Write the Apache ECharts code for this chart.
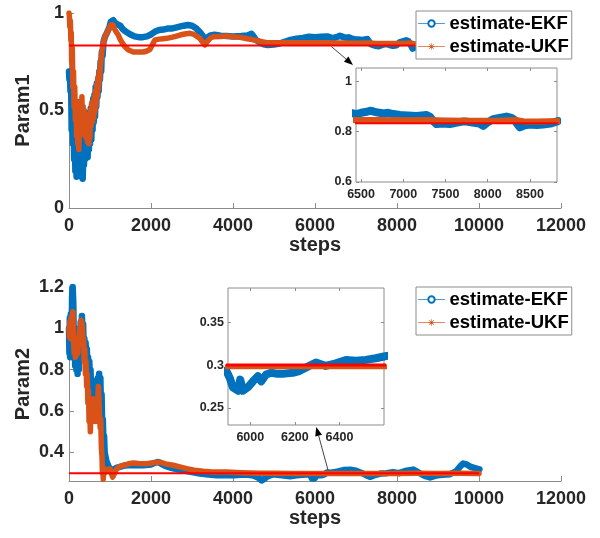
<!DOCTYPE html>
<html><head><meta charset="utf-8">
<script src="https://cdn.jsdelivr.net/npm/echarts@6/dist/echarts.min.js"></script>
<style>html,body{margin:0;padding:0;background:#fff}#c{width:600px;height:538px}</style>
</head><body><div id="c"></div>
<script>
// ---------- DATA ----------
const xTicksMain = [0, 2000, 4000, 6000, 8000, 10000, 12000];
const p1YTicks = [0, 0.5, 1];
const p2YTicks = [0.4, 0.6, 0.8, 1, 1.2];
const inset1XTicks = [6500, 7000, 7500, 8000, 8500];
const inset1YTicks = [0.6, 0.8, 1];
const inset2XTicks = [6000, 6200, 6400];
const inset2YTicks = [0.25, 0.3, 0.35];

const p1True = 0.833;
const p2True = 0.3;
const p1TrueSpan = [0, 8830];
const p2TrueSpan = [0, 10000];

const p1EKF = [[0,0.70],[10,0.66],[20,0.70],[35,0.60],[50,0.66],[65,0.40],[80,0.58],[95,0.33],[110,0.52],[125,0.25],[140,0.42],[155,0.19],[170,0.36],[185,0.16],[200,0.33],[215,0.18],[230,0.34],[245,0.22],[260,0.35],[275,0.21],[290,0.34],[305,0.16],[320,0.30],[335,0.15],[350,0.31],[365,0.22],[380,0.38],[395,0.25],[410,0.40],[425,0.27],[440,0.44],[455,0.26],[470,0.47],[485,0.30],[500,0.49],[515,0.33],[530,0.51],[545,0.35],[560,0.53],[575,0.40],[590,0.56],[605,0.44],[620,0.58],[635,0.47],[650,0.62],[665,0.52],[680,0.64],[695,0.57],[710,0.66],[725,0.60],[740,0.70],[755,0.66],[770,0.75],[785,0.70],[800,0.80],[820,0.78],[840,0.85],[860,0.84],[880,0.88],[900,0.87],[930,0.90],[960,0.91],[990,0.93],[1020,0.955],[1050,0.965],[1080,0.963],[1120,0.95],[1160,0.945],[1200,0.94],[1250,0.935],[1300,0.92],[1350,0.91],[1400,0.903],[1500,0.89],[1600,0.88],[1700,0.876],[1800,0.876],[1900,0.88],[2000,0.89],[2100,0.905],[2200,0.913],[2300,0.915],[2400,0.92],[2500,0.92],[2600,0.925],[2700,0.93],[2800,0.935],[2900,0.938],[3000,0.935],[3100,0.922],[3200,0.90],[3300,0.872],[3350,0.87],[3450,0.885],[3550,0.888],[3700,0.884],[3850,0.882],[4000,0.88],[4200,0.882],[4350,0.885],[4450,0.893],[4500,0.88],[4560,0.862],[4650,0.85],[4750,0.84],[4850,0.836],[5000,0.838],[5150,0.845],[5300,0.855],[5400,0.862],[5550,0.868],[5700,0.872],[5850,0.878],[6000,0.876],[6150,0.878],[6300,0.88],[6440,0.87],[6500,0.875],[6550,0.878],[6606,0.883],[6650,0.88],[6700,0.876],[6764,0.872],[6820,0.875],[6880,0.87],[6961,0.866],[7050,0.864],[7158,0.862],[7220,0.864],[7276,0.866],[7320,0.858],[7360,0.84],[7394,0.83],[7470,0.832],[7552,0.83],[7620,0.835],[7700,0.84],[7749,0.84],[7820,0.836],[7900,0.832],[7946,0.823],[7990,0.835],[8064,0.85],[8140,0.855],[8222,0.86],[8280,0.855],[8320,0.846],[8350,0.83],[8380,0.817],[8440,0.825],[8498,0.828],[8580,0.826],[8655,0.828],[8740,0.832],[8812,0.84],[8830,0.842]];

const p1UKF = [[0,1.0],[10,0.98],[20,0.93],[33,0.96],[45,0.86],[55,0.90],[65,0.75],[80,0.82],[95,0.62],[110,0.70],[125,0.52],[140,0.62],[155,0.45],[170,0.55],[185,0.37],[200,0.52],[215,0.33],[228,0.45],[240,0.30],[255,0.50],[270,0.38],[285,0.55],[300,0.42],[315,0.57],[330,0.40],[345,0.52],[360,0.38],[375,0.50],[390,0.37],[405,0.48],[420,0.36],[435,0.47],[450,0.34],[465,0.45],[480,0.33],[495,0.43],[510,0.36],[525,0.50],[540,0.42],[555,0.54],[570,0.44],[585,0.53],[600,0.46],[615,0.57],[630,0.49],[645,0.60],[660,0.52],[675,0.63],[690,0.57],[705,0.67],[720,0.61],[735,0.70],[750,0.66],[765,0.73],[780,0.72],[800,0.80],[820,0.79],[840,0.85],[860,0.85],[880,0.88],[900,0.88],[930,0.90],[960,0.91],[990,0.925],[1020,0.94],[1041,0.947],[1070,0.94],[1120,0.915],[1160,0.90],[1203,0.887],[1260,0.86],[1320,0.84],[1366,0.827],[1450,0.81],[1569,0.80],[1700,0.80],[1813,0.80],[1900,0.805],[1976,0.814],[2040,0.84],[2098,0.862],[2200,0.866],[2300,0.868],[2382,0.87],[2500,0.875],[2600,0.88],[2707,0.887],[2820,0.892],[2951,0.896],[3050,0.89],[3195,0.87],[3260,0.85],[3317,0.836],[3380,0.855],[3450,0.872],[3520,0.878],[3700,0.88],[3846,0.882],[4000,0.878],[4171,0.875],[4350,0.868],[4496,0.862],[4650,0.855],[4822,0.848],[5000,0.848],[5146,0.848],[5400,0.848],[5700,0.848],[6000,0.847],[6300,0.847],[6440,0.846],[6700,0.846],[7000,0.845],[7300,0.846],[7500,0.844],[7800,0.843],[8100,0.843],[8350,0.846],[8450,0.84],[8600,0.84],[8830,0.842]];

const p2EKF = [[0,1.0],[10,0.88],[20,1.05],[30,0.86],[45,1.07],[60,0.9],[75,1.15],[90,1.2],[105,1.12],[120,0.9],[135,1.0],[150,0.82],[165,0.97],[180,0.80],[195,0.95],[210,0.78],[225,0.93],[240,0.80],[255,0.98],[270,0.88],[285,1.03],[300,0.93],[315,1.06],[330,0.95],[345,1.02],[360,0.88],[375,0.95],[390,0.85],[405,0.93],[420,0.83],[435,0.9],[450,0.80],[465,0.86],[480,0.76],[495,0.84],[510,0.75],[525,0.80],[540,0.68],[555,0.75],[570,0.64],[585,0.70],[600,0.62],[615,0.68],[630,0.60],[645,0.66],[660,0.62],[675,0.70],[690,0.66],[705,0.76],[720,0.70],[735,0.78],[750,0.72],[765,0.76],[780,0.62],[795,0.68],[810,0.52],[825,0.56],[840,0.45],[855,0.48],[870,0.40],[890,0.38],[910,0.36],[940,0.345],[970,0.33],[1000,0.322],[1040,0.312],[1081,0.31],[1150,0.325],[1244,0.33],[1330,0.336],[1407,0.338],[1600,0.338],[1813,0.338],[2000,0.342],[2100,0.35],[2179,0.354],[2250,0.345],[2350,0.335],[2463,0.327],[2650,0.318],[2870,0.31],[3000,0.305],[3195,0.298],[3400,0.293],[3602,0.29],[3800,0.29],[4008,0.29],[4200,0.292],[4333,0.293],[4500,0.288],[4620,0.278],[4700,0.265],[4760,0.272],[4850,0.285],[4983,0.295],[5100,0.292],[5250,0.288],[5390,0.285],[5550,0.29],[5700,0.292],[5800,0.293],[5850,0.294],[5893,0.293],[5908,0.285],[5922,0.274],[5945,0.27],[5955,0.283],[5967,0.27],[5989,0.274],[6012,0.281],[6034,0.287],[6049,0.281],[6071,0.289],[6094,0.291],[6116,0.29],[6153,0.29],[6190,0.291],[6220,0.293],[6265,0.299],[6295,0.303],[6339,0.299],[6384,0.302],[6429,0.306],[6473,0.305],[6518,0.306],[6563,0.308],[6600,0.31],[6700,0.315],[6854,0.317],[7000,0.312],[7150,0.30],[7250,0.29],[7341,0.282],[7450,0.29],[7600,0.298],[7748,0.30],[7900,0.305],[8050,0.30],[8200,0.31],[8398,0.317],[8550,0.30],[8700,0.285],[8805,0.279],[8950,0.288],[9100,0.292],[9293,0.295],[9450,0.31],[9550,0.335],[9617,0.346],[9700,0.342],[9800,0.33],[9943,0.322],[10010,0.318]];

const p2UKF = [[0,1.0],[10,0.96],[20,1.03],[35,0.95],[50,1.05],[65,0.98],[80,1.06],[95,1.08],[110,0.96],[125,0.88],[140,0.95],[155,0.86],[170,0.93],[185,0.87],[200,0.91],[215,0.88],[230,0.95],[245,0.92],[260,1.0],[275,0.98],[293,1.04],[310,0.99],[325,1.02],[340,0.92],[355,0.95],[370,0.84],[385,0.90],[400,0.78],[415,0.84],[430,0.72],[445,0.78],[460,0.64],[475,0.70],[490,0.55],[505,0.62],[520,0.50],[535,0.60],[550,0.56],[565,0.64],[580,0.60],[595,0.66],[610,0.58],[625,0.64],[640,0.55],[655,0.62],[670,0.57],[685,0.66],[700,0.64],[715,0.72],[730,0.66],[745,0.58],[760,0.52],[775,0.56],[790,0.42],[805,0.38],[815,0.30],[825,0.33],[835,0.27],[850,0.32],[870,0.30],[900,0.315],[940,0.31],[1000,0.32],[1030,0.30],[1065,0.281],[1100,0.295],[1163,0.322],[1250,0.333],[1325,0.338],[1450,0.345],[1569,0.349],[1700,0.347],[1894,0.345],[2050,0.35],[2220,0.354],[2350,0.345],[2545,0.338],[2700,0.33],[2870,0.322],[3050,0.314],[3276,0.309],[3500,0.306],[3846,0.305],[4200,0.302],[4659,0.30],[5000,0.299],[5500,0.298],[6000,0.298],[6500,0.298],[7000,0.298],[7500,0.298],[8000,0.298],[8500,0.299],[9000,0.298],[9500,0.299],[10000,0.298]];

// ---------- STYLE ----------
const FONT = '"Liberation Sans", Arial, sans-serif';
const BLUE = '#0072BD', ORANGE = '#D95319', RED = '#FF0000';
const AX = '#8c8c8c', TXT = '#262626';
const ASTER = 'path://M4.5,0H5.5V10H4.5Z M0,4.5H10V5.5H0Z M1,1.7L1.7,1L9,8.3L8.3,9Z M8.3,1L9,1.7L1.7,9L1,8.3Z';

const chart = echarts.init(document.getElementById('c'), null, {renderer: 'canvas'});
const fmt = v => String(Math.round(v * 1000) / 1000);

function mainX(grid, name) {
  return {gridIndex: grid, type: 'value', min: 0, max: 12000, position: 'bottom',
    axisLine: {show: true, onZero: false, lineStyle: {color: AX, width: 1}},
    axisTick: {show: true, inside: true, length: 5, lineStyle: {color: AX}, customValues: xTicksMain},
    axisLabel: {fontSize: 18, fontWeight: 'bold', color: TXT, fontFamily: FONT, margin: 9, formatter: fmt, customValues: xTicksMain},
    splitLine: {show: false},
    name: name, nameLocation: 'middle', nameGap: 27,
    nameTextStyle: {fontSize: 20, fontWeight: 'bold', color: TXT, fontFamily: FONT}};
}
function mainY(grid, min, max, ticks, name) {
  return {gridIndex: grid, type: 'value', min: min, max: max, position: 'left',
    axisLine: {show: true, onZero: false, lineStyle: {color: AX, width: 1}},
    axisTick: {show: true, inside: true, length: 5, lineStyle: {color: AX}, customValues: ticks},
    axisLabel: {fontSize: 18, fontWeight: 'bold', color: TXT, fontFamily: FONT, margin: 5, formatter: fmt, customValues: ticks},
    splitLine: {show: false},
    name: name, nameLocation: 'middle', nameGap: 36, nameMoveOverlap: false,
    nameTextStyle: {fontSize: 20, fontWeight: 'bold', color: TXT, fontFamily: FONT}};
}
function insetX(grid, min, max, ticks, pos) {
  return {gridIndex: grid, type: 'value', min: min, max: max, position: pos,
    axisLine: {show: false},
    axisTick: {show: true, inside: true, length: 3, lineStyle: {color: AX}, customValues: ticks},
    axisLabel: {show: pos === 'bottom', fontSize: 12.5, fontWeight: 'bold', color: TXT, fontFamily: FONT, margin: 6, formatter: fmt, customValues: ticks},
    splitLine: {show: false}};
}
function insetY(grid, min, max, ticks, pos) {
  return {gridIndex: grid, type: 'value', min: min, max: max, position: pos,
    axisLine: {show: false},
    axisTick: {show: true, inside: true, length: 3, lineStyle: {color: AX}, customValues: ticks},
    axisLabel: {show: pos === 'left', fontSize: 12.5, fontWeight: 'bold', color: TXT, fontFamily: FONT, margin: 4, formatter: fmt, customValues: ticks},
    splitLine: {show: false}};
}
function ekf(xi, yi, data, lw, ss) {
  return {name: 'estimate-EKF', type: 'line', xAxisIndex: xi, yAxisIndex: yi, data: data,
    symbol: 'emptyCircle', symbolSize: ss, showSymbol: false,
    itemStyle: {color: BLUE, borderWidth: 1}, lineStyle: {color: BLUE, width: lw, join: 'round', cap: 'round'},
    emphasis: {disabled: true}, animation: false, z: 2};
}
function ukf(xi, yi, data, lw, ss) {
  return {name: 'estimate-UKF', type: 'line', xAxisIndex: xi, yAxisIndex: yi, data: data,
    symbol: ASTER, symbolSize: ss, showSymbol: false,
    itemStyle: {color: ORANGE}, lineStyle: {color: ORANGE, width: lw, join: 'round', cap: 'round'},
    emphasis: {disabled: true}, animation: false, z: 3};
}
function truth(xi, yi, span, v, lw) {
  return {name: 'true', type: 'line', xAxisIndex: xi, yAxisIndex: yi,
    data: [[span[0], v], [span[1], v]], symbol: 'none',
    lineStyle: {color: RED, width: lw}, emphasis: {disabled: true}, animation: false, z: 4};
}
function legendAt(top) {
  return {left: 416, top: top, orient: 'vertical', data: ['estimate-EKF', 'estimate-UKF'],
    backgroundColor: '#fff', borderColor: AX, borderWidth: 1, borderRadius: 0,
    padding: [3, 3, 3, 2], itemGap: 4, itemWidth: 26, itemHeight: 8,
    textStyle: {fontSize: 18.5, fontWeight: 'bold', color: '#000', fontFamily: FONT},
    lineStyle: {width: 1, opacity: 0.7}, selectedMode: false, z: 10};
}

const option = {
  animation: false,
  backgroundColor: '#fff',
  grid: [
    {left: 69, top: 13, width: 492, height: 195, show: false},
    {left: 356, top: 68, width: 201, height: 114, show: true, backgroundColor: '#fff', borderColor: AX, borderWidth: 1},
    {left: 69, top: 287, width: 492, height: 194, show: false},
    {left: 228, top: 288, width: 156, height: 137, show: true, backgroundColor: '#fff', borderColor: AX, borderWidth: 1}
  ],
  xAxis: [
    mainX(0, 'steps'),
    insetX(1, 6440, 8820, inset1XTicks, 'bottom'),
    insetX(1, 6440, 8820, inset1XTicks, 'top'),
    mainX(2, 'steps'),
    insetX(3, 5900, 6600, inset2XTicks, 'bottom'),
    insetX(3, 5900, 6600, inset2XTicks, 'top')
  ],
  yAxis: [
    mainY(0, 0, 1, p1YTicks, 'Param1'),
    insetY(1, 0.6, 1.053, inset1YTicks, 'left'),
    insetY(1, 0.6, 1.053, inset1YTicks, 'right'),
    mainY(2, 0.262, 1.2, p2YTicks, 'Param2'),
    insetY(3, 0.23, 0.39, inset2YTicks, 'left'),
    insetY(3, 0.23, 0.39, inset2YTicks, 'right')
  ],
  legend: [legendAt(11), legendAt(287)],
  series: [
    ekf(0, 0, p1EKF, 6.5, 7), ukf(0, 0, p1UKF, 5.5, 7), truth(0, 0, p1TrueSpan, p1True, 2),
    ekf(1, 1, p1EKF, 8, 8), ukf(1, 1, p1UKF, 6, 7), truth(1, 1, p1TrueSpan, p1True, 2),
    ekf(3, 3, p2EKF, 6.5, 7), ukf(3, 3, p2UKF, 5.5, 7), truth(3, 3, p2TrueSpan, p2True, 2),
    ekf(4, 4, p2EKF, 8, 8), ukf(4, 4, p2UKF, 5, 7), truth(4, 4, p2TrueSpan, p2True, 3)
  ]
};
chart.setOption(option);

// ---------- annotation arrows (positions derived from axes) ----------
function arrow(p0, p1) {
  const dx = p1[0] - p0[0], dy = p1[1] - p0[1], L = Math.hypot(dx, dy);
  const ux = dx / L, uy = dy / L, hl = 9, hw = 3.5;
  const bx = p1[0] - ux * hl, by = p1[1] - uy * hl;
  return [
    {type: 'line', shape: {x1: p0[0], y1: p0[1], x2: bx, y2: by}, style: {stroke: '#444', lineWidth: 1}, z: 100},
    {type: 'polygon', shape: {points: [[p1[0], p1[1]], [bx - uy * hw, by + ux * hw], [bx + uy * hw, by - ux * hw]]}, style: {fill: '#000'}, z: 100}
  ];
}
const a1s = chart.convertToPixel({xAxisIndex: 0, yAxisIndex: 0}, [6400, p1True - 0.005]);
const c1 = chart.convertToPixel({xAxisIndex: 1, yAxisIndex: 1}, [6440, 1.053]);
const a2s = chart.convertToPixel({xAxisIndex: 3, yAxisIndex: 3}, [6320, p2True + 0.013]);
const c2 = chart.convertToPixel({xAxisIndex: 4, yAxisIndex: 4}, [6296, 0.23]);
chart.setOption({graphic: [].concat(
  arrow(a1s, [c1[0] - 3, c1[1] - 3]),
  arrow(a2s, [c2[0], c2[1] + 2])
)});
</script></body></html>
